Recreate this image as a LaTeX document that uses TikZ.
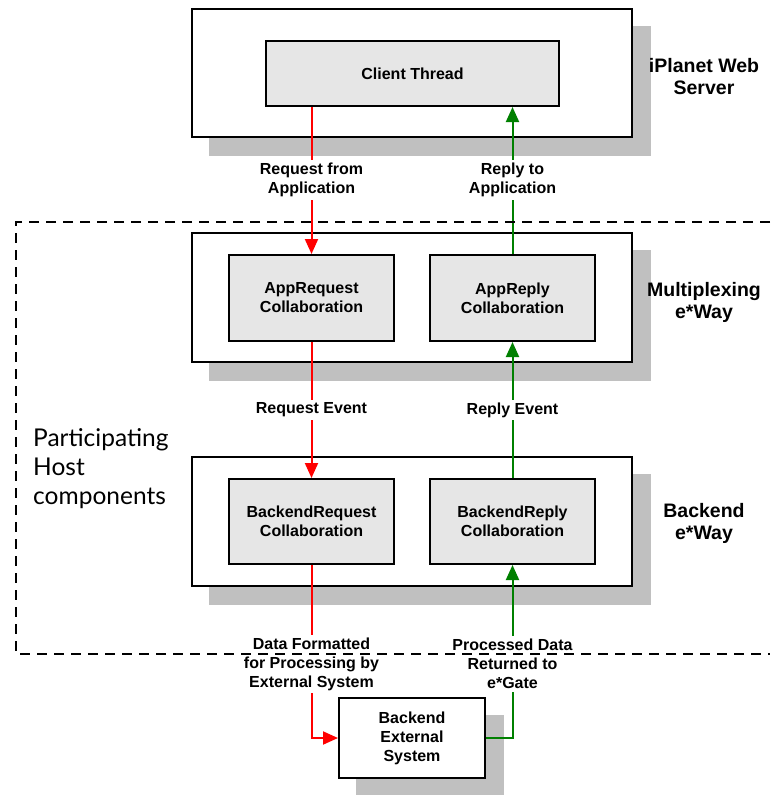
\documentclass[tikz,border=0pt]{standalone}
\usepackage{fontspec}
\setmainfont{Liberation Sans}
\newfontfamily\partfont{Lato}
\usetikzlibrary{calc,arrows.meta}
\definecolor{shadowgray}{RGB}{192,192,192}
\definecolor{innergray}{RGB}{230,230,230}
\definecolor{reqred}{RGB}{255,0,0}
\definecolor{repgreen}{RGB}{0,128,0}
\tikzset{
  outerbox/.style={draw=black, line width=2pt, fill=white, minimum width=440pt, minimum height=128pt, inner sep=0pt},
  extbox/.style={draw=black, line width=2pt, fill=white, minimum width=146pt, minimum height=80pt, inner sep=0pt, align=center, font=\fontsize{16}{19}\selectfont\bfseries},
  innerbox/.style={draw=black, line width=2pt, fill=innergray, minimum width=165pt, minimum height=86pt, inner sep=0pt, align=center, font=\fontsize{16}{19}\selectfont\bfseries},
  shadowfill/.style={fill=shadowgray, draw=none},
  reqline/.style={draw=reqred, line width=2pt, -{Triangle[length=15pt,width=13pt]}},
  repline/.style={draw=repgreen, line width=2pt, -{Triangle[length=15pt,width=13pt]}},
  flowlabel/.style={fill=white, inner sep=3pt, align=center, font=\fontsize{16}{19}\selectfont\bfseries},
  sidelabel/.style={align=center, inner sep=0pt, font=\fontsize{19.5}{22}\selectfont\bfseries},
  hostdash/.style={draw=black, line width=2pt, dash pattern=on 10pt off 7pt},
}
\begin{document}
\begin{tikzpicture}[x=1pt,y=-1pt]
\useasboundingbox (0,0) rectangle (771,795);
% outer boxes (for anchors)
\node[outerbox] (web) at (412,73) {};
\node[outerbox, minimum height=129pt] (mux) at (412,297.5) {};
\node[outerbox, minimum height=129pt] (bck) at (412,521.5) {};
\node[extbox] (ext) at (412,738) {};
% shadows
\fill[shadowfill] ($(web.north west)+(18,18)$) rectangle ($(web.south east)+(18,18)$);
\fill[shadowfill] ($(mux.north west)+(18,18)$) rectangle ($(mux.south east)+(18,18)$);
\fill[shadowfill] ($(bck.north west)+(18,18)$) rectangle ($(bck.south east)+(18,18)$);
\fill[shadowfill] ($(ext.north west)+(18,18)$) rectangle ($(ext.south east)+(18,18)$);
% redraw outer boxes above shadows
\node[outerbox] (webf) at (web) {};
\node[outerbox, minimum height=129pt] (muxf) at (mux) {};
\node[outerbox, minimum height=129pt] (bckf) at (bck) {};
\node[extbox] (extf) at (ext) {Backend\\External\\System};
% inner boxes
\node[innerbox, minimum width=293pt, minimum height=65pt] (client) at (412.5,73.5) {Client Thread};
\node[innerbox] (appreq) at (311.5,298) {AppRequest\\Collaboration};
\node[innerbox] (apprep) at (512.5,298) {AppReply\\Collaboration};
\node[innerbox, minimum height=85pt] (breq) at (311.5,521.5) {BackendRequest\\Collaboration};
\node[innerbox, minimum height=85pt] (brep) at (512.5,521.5) {BackendReply\\Collaboration};
% connectors
\draw[reqline] (appreq.north |- client.south) -- (appreq.north);
\draw[repline] (apprep.north) -- (apprep.north |- client.south);
\draw[reqline] (appreq.south) -- (breq.north);
\draw[repline] (brep.north) -- (apprep.south);
\draw[reqline] (breq.south) -- (breq.south |- ext.west) -- (ext.west);
\draw[repline] (ext.east) -- (brep.south |- ext.east) -- (brep.south);
% flow labels
\node[flowlabel] (l1) at (311.5,180) {Request from\\Application};
\node[flowlabel] (l2) at (512.5,180) {Reply to\\Application};
\node[flowlabel] (l3) at (311.5,410) {Request Event};
\node[flowlabel] (l4) at (512.5,410) {Reply Event};
\node[flowlabel] (l5) at (311.5,664) {Data Formatted\\for Processing by\\External System};
\node[flowlabel] (l6) at (512.5,664) {Processed Data\\Returned to\\e*Gate};
% side labels
\node[sidelabel] (s1) at (704,77) {iPlanet Web\\Server};
\node[sidelabel] (s2) at (704,302) {Multiplexing\\e*Way};
\node[sidelabel] (s3) at (704,523) {Backend\\e*Way};
% participating host boundary
\draw[hostdash] (770,222) -- (16,222) -- (16,654) -- (770,654);
\node[anchor=north west, align=left, inner sep=0pt, font=\partfont\fontsize{24.5}{29}\selectfont] (host) at (33,428) {Participating\\Host\\components};
\end{tikzpicture}
\end{document}
